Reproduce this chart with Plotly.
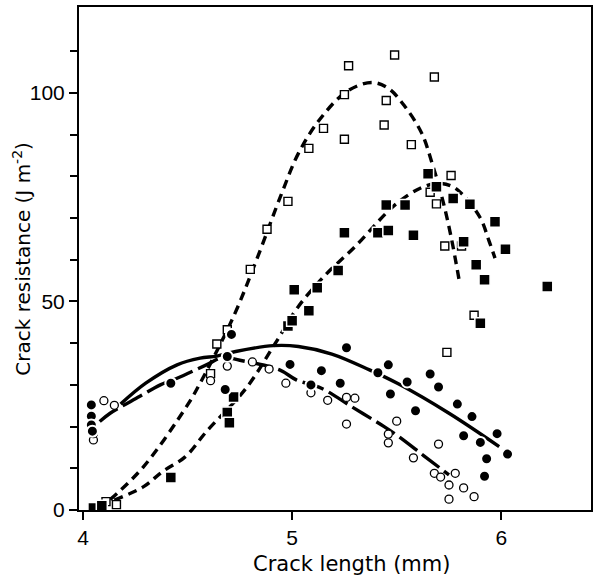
import plotly.graph_objects as go

# ---- data ----
open_sq_x = [4.11, 4.16, 4.61, 4.64, 4.69, 4.80, 4.88, 4.98, 5.08, 5.15, 5.25, 5.25, 5.27, 5.44, 5.45,
             5.49, 5.57, 5.66, 5.68, 5.69, 5.73, 5.74, 5.76, 5.81, 5.87]
open_sq_y = [2.0, 1.3, 32.7, 39.8, 43.2, 57.7, 67.3, 74.0, 86.7, 91.5, 88.9, 99.6, 106.5, 92.3, 98.2,
             109.1, 87.6, 76.2, 103.8, 73.4, 63.3, 37.8, 80.2, 63.3, 46.7]

filled_sq_x = [4.05, 4.09, 4.42, 4.69, 4.70, 4.72, 4.98, 5.00, 5.01, 5.08, 5.12, 5.22, 5.25, 5.41, 5.45,
               5.46, 5.54, 5.58, 5.65, 5.69, 5.77, 5.82, 5.85, 5.88, 5.90, 5.92, 5.97, 6.02, 6.22]
filled_sq_y = [0.5, 1.0, 7.8, 23.4, 20.9, 27.1, 44.1, 45.4, 52.8, 47.8, 53.3, 57.4, 66.5, 66.5, 73.1,
               67.0, 73.1, 65.9, 80.6, 77.5, 74.7, 64.3, 73.3, 58.8, 44.8, 55.2, 69.1, 62.5, 53.6]

filled_circ_x = [4.04, 4.04, 4.04, 4.045, 4.42, 4.68, 4.69, 4.71, 4.99, 5.09, 5.14, 5.23, 5.26, 5.41,
                 5.46, 5.47, 5.55, 5.59, 5.66, 5.70, 5.79, 5.82, 5.86, 5.90, 5.92, 5.93, 5.98, 6.03]
filled_circ_y = [25.2, 22.5, 20.4, 18.9, 30.4, 28.9, 36.8, 42.1, 34.9, 30.0, 33.4, 30.4, 38.9, 32.9,
                 34.8, 27.8, 30.7, 23.8, 32.6, 29.5, 25.4, 17.8, 22.4, 16.2, 8.1, 12.3, 18.3, 13.4]

open_circ_x = [4.05, 4.05, 4.10, 4.15, 4.61, 4.69, 4.81, 4.89, 4.97, 5.09, 5.17, 5.26, 5.26, 5.30,
               5.46, 5.46, 5.50, 5.58, 5.68, 5.70, 5.71, 5.75, 5.75, 5.78, 5.82, 5.87]
open_circ_y = [16.8, 18.3, 26.2, 25.1, 31.0, 34.5, 35.5, 33.8, 30.4, 28.1, 26.3, 27.0, 20.6, 26.8,
               18.2, 16.1, 21.3, 12.5, 8.8, 15.8, 7.9, 6.0, 2.6, 8.8, 5.3, 3.2]

# fitted curves
fit_open_sq_x = [4.13, 4.29, 4.50, 4.56, 4.72, 4.83, 4.95, 5.03, 5.13, 5.26, 5.38, 5.46, 5.54, 5.62,
                 5.67, 5.72, 5.76, 5.80]
fit_open_sq_y = [2.5, 10.4, 25.2, 30.4, 46.4, 60.0, 75.9, 85.5, 93.5, 100.3, 102.5, 101.1, 96.7, 90.3,
                 83.0, 74.3, 65.5, 54.7]

fit_filled_sq_x = [4.15, 4.29, 4.38, 4.49, 4.59, 4.78, 4.92, 5.03, 5.16, 5.30, 5.45, 5.51, 5.61, 5.69,
                   5.76, 5.81, 5.90, 5.94, 5.97]
fit_filled_sq_y = [2.4, 5.6, 9.2, 12.8, 18.8, 29.2, 40.0, 48.8, 56.4, 63.1, 71.2, 73.9, 77.1, 78.3,
                   77.7, 75.9, 70.0, 64.7, 60.4]

fit_filled_circ_x = [4.18, 4.30, 4.45, 4.56, 4.64, 4.73, 4.91, 5.03, 5.19, 5.37, 5.51, 5.75, 5.99]
fit_filled_circ_y = [25.4, 30.4, 34.8, 36.4, 36.9, 38.0, 39.4, 39.2, 37.4, 33.6, 30.2, 23.2, 15.2]

fit_open_circ_x = [4.08, 4.13, 4.27, 4.37, 4.45, 4.59, 4.67, 4.75, 4.94, 5.02, 5.14, 5.29, 5.44, 5.51,
                   5.63, 5.75]
fit_open_circ_y = [21.2, 23.2, 27.2, 30.0, 31.6, 34.8, 36.6, 35.9, 33.6, 31.2, 29.2, 24.6, 20.0, 17.6,
                   13.0, 8.4]

x_ticks = [4, 5, 6]
y_ticks = [0, 50, 100]
y_minor = [10, 20, 30, 40, 60, 70, 80, 90, 110]

fig = go.Figure()

line_w = 3.4
fig.add_trace(go.Scatter(x=fit_open_sq_x, y=fit_open_sq_y, mode="lines",
                         line=dict(color="black", width=line_w, dash="9px,6px", shape="spline")))
fig.add_trace(go.Scatter(x=fit_filled_sq_x, y=fit_filled_sq_y, mode="lines",
                         line=dict(color="black", width=line_w, dash="9px,6px", shape="spline")))
fig.add_trace(go.Scatter(x=fit_filled_circ_x, y=fit_filled_circ_y, mode="lines",
                         line=dict(color="black", width=line_w, shape="spline")))
fig.add_trace(go.Scatter(x=fit_open_circ_x, y=fit_open_circ_y, mode="lines",
                         line=dict(color="black", width=line_w, dash="22px,6px", shape="spline")))

fig.add_trace(go.Scatter(x=open_sq_x, y=open_sq_y, mode="markers",
                         marker=dict(symbol="square", size=8, color="white",
                                     line=dict(color="black", width=1.4))))
fig.add_trace(go.Scatter(x=filled_sq_x, y=filled_sq_y, mode="markers",
                         marker=dict(symbol="square", size=11, color="black",
                                     line=dict(color="white", width=1.5))))
fig.add_trace(go.Scatter(x=open_circ_x, y=open_circ_y, mode="markers",
                         marker=dict(symbol="circle", size=8, color="white",
                                     line=dict(color="black", width=1.3))))
fig.add_trace(go.Scatter(x=filled_circ_x, y=filled_circ_y, mode="markers",
                         marker=dict(symbol="circle", size=11, color="black",
                                     line=dict(color="white", width=2))))

tick_family = "Liberation Sans, Arial, sans-serif"
title_family = "DejaVu Sans, Liberation Sans, sans-serif"

fig.update_layout(
    width=594, height=579,
    margin=dict(l=79, r=1, t=7, b=69),
    paper_bgcolor="white", plot_bgcolor="white",
    showlegend=False,
    font=dict(family=tick_family, size=21, color="black"),
    xaxis=dict(range=[3.981, 6.429], tickvals=x_ticks, ticktext=[str(v) for v in x_ticks],
               showgrid=False, zeroline=False, showline=True, linecolor="black", linewidth=2,
               mirror=True, ticks="outside", ticklen=8, tickwidth=1.5, tickcolor="black",
               tickfont=dict(family=tick_family, size=21)),
    yaxis=dict(range=[0, 120.6], tickvals=y_ticks, ticktext=[str(v) for v in y_ticks],
               showgrid=False, zeroline=False, showline=True, linecolor="black", linewidth=2,
               mirror=True, ticks="outside", ticklen=8, tickwidth=1.5, tickcolor="black",
               tickfont=dict(family=tick_family, size=21),
               minor=dict(tickvals=y_minor, ticks="outside", ticklen=7, tickwidth=1.5,
                          tickcolor="black", showgrid=False)),
    annotations=[
        dict(text="Crack length (mm)", xref="paper", yref="paper",
             x=(353 - 79) / 514, y=-(564 - 510) / 503, xanchor="center", yanchor="middle",
             showarrow=False, font=dict(family=title_family, size=21)),
        dict(text="Crack resistance (J m<sup>-2</sup>)", xref="paper", yref="paper",
             x=-(79 - 21) / 514, y=0.5, xanchor="center", yanchor="middle", textangle=-90,
             showarrow=False, font=dict(family=title_family, size=20)),
    ],
)

fig.write_html("out.html")
